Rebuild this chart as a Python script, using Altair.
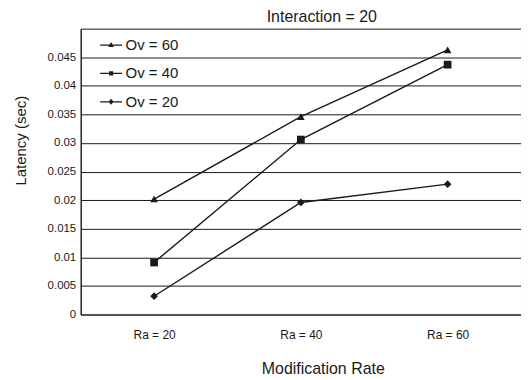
import altair as alt
import pandas as pd

ra_labels = ["Ra = 20", "Ra = 40", "Ra = 60"]
series_names = ["Ov = 60", "Ov = 40", "Ov = 20"]
ov60 = [0.0202, 0.0346, 0.0463]
ov40 = [0.0091, 0.0306, 0.0437]
ov20 = [0.0032, 0.0196, 0.0228]
y_ticks = [0, 0.005, 0.01, 0.015, 0.02, 0.025, 0.03, 0.035, 0.04, 0.045]

rows = []
for name, vals in zip(series_names, [ov60, ov40, ov20]):
    for r, v in zip(ra_labels, vals):
        rows.append({"ra": r, "series": name, "latency": v})
df = pd.DataFrame(rows)

FONT = "Liberation Sans"
INK = "#1a1a1a"

x_enc = alt.X("ra:N", sort=ra_labels,
              scale=alt.Scale(type="point", padding=0.5),
              axis=alt.Axis(title="Modification Rate", labelAngle=0, ticks=False,
                            domain=False, grid=False, labelPadding=15,
                            labelFontSize=12, labelColor=INK, labelFont=FONT,
                            titleFontSize=16, titleFontWeight="normal", titleColor=INK,
                            titleFont=FONT, titleX=243, titleY=54, titleBaseline="middle"))
y_enc = alt.Y("latency:Q",
              scale=alt.Scale(domain=[0, 0.05], nice=False),
              axis=alt.Axis(title="Latency (sec)", values=y_ticks, format="~g",
                            ticks=False, labelPadding=5, domain=True, domainColor=INK,
                            grid=True, gridColor=INK, gridWidth=1, gridOpacity=1,
                            labelFontSize=11.5, labelColor=INK, labelFont=FONT,
                            titleFontSize=15, titleFontWeight="normal", titleColor=INK,
                            titleFont=FONT, titleX=-60, titleY=112, titleBaseline="middle"))

base = alt.Chart(df)

lines = base.mark_line(color=INK, strokeWidth=1.4).encode(
    x=x_enc, y=y_enc, detail="series:N")

points = base.mark_point(filled=True, color=INK, size=60, opacity=1).encode(
    x=x_enc, y=y_enc,
    shape=alt.Shape("series:N",
                    scale=alt.Scale(domain=series_names,
                                    range=["triangle-up", "square", "diamond"]),
                    legend=None))

legend_paths = [
    "M-2.2,-0.13H2.2V0.13H-2.2Z M0,-0.6L0.55,0.4L-0.55,0.4Z",
    "M-2.2,-0.13H2.2V0.13H-2.2Z M-0.42,-0.42H0.42V0.42H-0.42Z",
    "M-2.2,-0.13H2.2V0.13H-2.2Z M0,-0.6L0.5,0L0,0.6L-0.5,0Z",
]

legend_layer = base.mark_point(filled=True, color=INK, size=100, opacity=0).encode(
    x=x_enc, y=y_enc,
    shape=alt.Shape("series:N",
                    scale=alt.Scale(domain=series_names, range=legend_paths),
                    legend=alt.Legend(title=None, orient="none", legendX=23, legendY=9,
                                      symbolSize=100, symbolFillColor=INK,
                                      symbolOpacity=1,
                                      labelFontSize=15, labelFont=FONT, labelColor=INK,
                                      labelOffset=7, rowPadding=12.5)))

chart = alt.layer(lines, points, legend_layer).resolve_scale(
    shape="independent"
).properties(
    width=442, height=287,
    title=alt.TitleParams("Interaction = 20", fontSize=16, fontWeight="normal",
                          font=FONT, color=INK, dx=21, offset=4),
    padding={"left": 6, "top": 0, "right": 0, "bottom": 0},
).configure_view(stroke=INK, strokeWidth=1)

chart.save("out.html", embed_options={"renderer": "svg", "actions": False})
